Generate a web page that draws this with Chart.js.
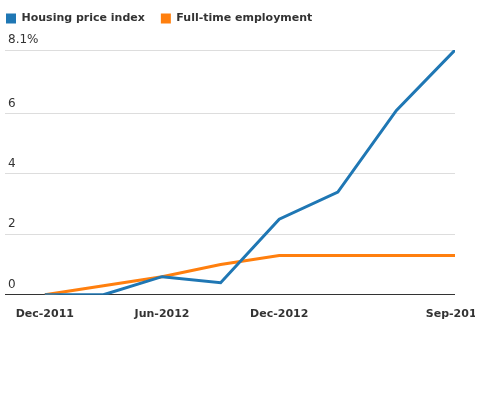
<!DOCTYPE html>
<html>
<head>
<meta charset="utf-8">
<script src="https://cdn.jsdelivr.net/npm/chart.js@4/dist/chart.umd.min.js"></script>
<style>
  html, body { margin: 0; padding: 0; background: #fff; overflow: hidden; }
  #wrap { width: 475px; height: 400px; overflow: hidden; }
</style>
</head>
<body>
<div id="wrap"><canvas id="c" width="480" height="400"></canvas></div>
<script>
const months = ["Dec-2011", "Mar-2012", "Jun-2012", "Sep-2012", "Dec-2012", "Mar-2013", "Jun-2013", "Sep-2013"]
const housing = [0, 0, 0.6, 0.4, 2.5, 3.4, 6.1, 8.1]
const employment = [0, 0.3, 0.6, 1.0, 1.3, 1.3, 1.3, 1.3]
const xTickIdx = [0, 2, 4, 7]
const yTicks = [0, 2, 4, 6, 8.1]

const toPoints = arr => arr.map((v, i) => ({ x: i, y: v }))

// extra room under the legend, and pull the legend items to the left edge
const legendTweak = {
  id: "legendTweak",
  beforeInit(chart) {
    const fit = chart.legend.fit
    chart.legend.fit = function () {
      fit.call(this)
      this.height += 16
    }
  },
  afterLayout(chart) {
    chart.legend.left -= 9
    chart.legend.right -= 9
  },
}

new Chart(document.getElementById("c").getContext("2d"), {
  type: "line",
  data: {
    datasets: [
      {
        label: "Housing price index",
        data: toPoints(housing),
        borderColor: "#1f77b4",
        backgroundColor: "#1f77b4",
        borderWidth: 3,
        pointRadius: 0,
        tension: 0,
      },
      {
        label: "Full-time employment",
        data: toPoints(employment),
        borderColor: "#ff7f0e",
        backgroundColor: "#ff7f0e",
        borderWidth: 3,
        pointRadius: 0,
        tension: 0,
      },
    ],
  },
  plugins: [legendTweak],
  options: {
    responsive: false,
    animation: false,
    layout: { padding: { left: -1, right: 25, top: -3, bottom: 74 } },
    plugins: {
      tooltip: { enabled: false },
      legend: {
        align: "start",
        labels: {
          boxWidth: 10,
          boxHeight: 10,
          padding: 16,
          color: "#333",
          font: { family: "DejaVu Sans", size: 11, weight: "bold" },
          generateLabels: chart =>
            Chart.defaults.plugins.legend.labels.generateLabels(chart).map(l => ({ ...l, lineWidth: 0 })),
        },
      },
    },
    scales: {
      x: {
        type: "linear",
        min: -0.68,
        max: 7,
        grid: { display: false },
        border: { display: false },
        afterBuildTicks: s => { s.ticks = xTickIdx.map(v => ({ value: v })) },
        afterFit: s => { s.paddingLeft = 0; s.paddingRight = 0 },
        ticks: {
          maxRotation: 0,
          autoSkip: false,
          padding: 5,
          color: "#333",
          font: { family: "DejaVu Sans", size: 11, weight: "bold" },
          callback: v => months[v],
        },
      },
      y: {
        min: 0,
        max: 8.1,
        border: { display: false },
        grid: {
          drawTicks: false,
          color: ctx => (ctx.tick && ctx.tick.value === 0 ? "#333" : "#ddd"),
        },
        afterBuildTicks: s => { s.ticks = yTicks.map(v => ({ value: v })) },
        ticks: {
          mirror: true,
          padding: 3,
          labelOffset: -10,
          color: "#333",
          font: { family: "DejaVu Sans", size: 12 },
          callback: v => (v === 8.1 ? "8.1%" : String(v)),
        },
      },
    },
  },
})
</script>
</body>
</html>
